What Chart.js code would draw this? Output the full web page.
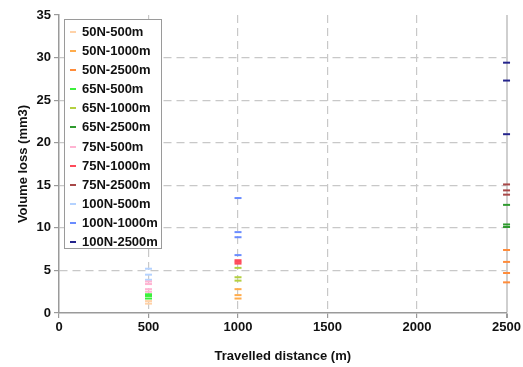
<!DOCTYPE html>
<html>
<head>
<meta charset="utf-8">
<script src="https://cdn.jsdelivr.net/npm/chart.js@4"></script>
<style>
  body { margin: 0; background: #fff; }
  #wrap { position: relative; width: 523px; height: 367px; }
  #legend {
    position: absolute; left: 64px; top: 19px; width: 98px; height: 230px;
    background: #fff; border: 1px solid #9a9a9a;
    font: bold 13px "Liberation Sans", Arial, sans-serif; color: #111;
    padding-top: 2px; box-sizing: border-box;
  }
  #legend div { height: 19.1px; line-height: 19.1px; position: relative; padding-left: 17px; white-space: nowrap; }
  #legend span { position: absolute; left: 5px; top: 9px; width: 6px; height: 2px; }
</style>
</head>
<body>
<div id="wrap">
  <canvas id="wearChart" width="523" height="367"></canvas>
  <div id="legend"></div>
</div>
<script>
// load (N) and distance (m) for each test series
const seriesNames = ['50N-500m', '50N-1000m', '50N-2500m', '65N-500m', '65N-1000m', '65N-2500m',
  '75N-500m', '75N-1000m', '75N-2500m', '100N-500m', '100N-1000m', '100N-2500m'];
const distances = [500, 1000, 2500, 500, 1000, 2500, 500, 1000, 2500, 500, 1000, 2500];
const seriesColors = ['#ffd2a8', '#ffac4c', '#ff8c3a', '#3cf03c', '#b4d040', '#2e9a2e',
  '#ffb4d2', '#ff4a5a', '#a84848', '#b4d2ff', '#6a8cff', '#24248c'];

// volume loss (mm3), repeated runs
const loss50N500 = [1.4, 1.1];
const loss50N1000 = [2.8, 2.1, 1.7];
const loss50N2500 = [7.4, 6.0, 4.7, 3.6];
const loss65N500 = [2.2, 2.0, 1.7];
const loss65N1000 = [5.3, 4.2, 3.8];
const loss65N2500 = [12.7, 10.4, 10.1];
const loss75N500 = [3.7, 3.4, 2.8, 2.5];
const loss75N1000 = [6.2, 6.0, 5.8];
const loss75N2500 = [15.1, 14.4, 13.9];
const loss100N500 = [5.2, 4.5, 3.9];
const loss100N1000 = [13.5, 9.5, 8.9, 6.8];
const loss100N2500 = [29.4, 27.3, 21.0];

const allLosses = [loss50N500, loss50N1000, loss50N2500, loss65N500, loss65N1000, loss65N2500,
  loss75N500, loss75N1000, loss75N2500, loss100N500, loss100N1000, loss100N2500];

const yTicks = [0, 5, 10, 15, 20, 25, 30, 35];
const xTicks = [0, 500, 1000, 1500, 2000, 2500];

const datasets = seriesNames.map((name, i) => ({
  label: name,
  data: allLosses[i].map(v => ({ x: distances[i], y: v })),
  showLine: false,
  clip: false,
  pointStyle: 'line',
  pointRadius: 3.5,
  pointBorderWidth: 2,
  borderColor: seriesColors[i],
  backgroundColor: seriesColors[i]
}));

// legend box inside the plot
const legendEl = document.getElementById('legend');
seriesNames.forEach((name, i) => {
  const row = document.createElement('div');
  const mark = document.createElement('span');
  mark.style.background = seriesColors[i];
  row.appendChild(mark);
  row.appendChild(document.createTextNode(name));
  legendEl.appendChild(row);
});

const tickFont = { family: '"Liberation Sans", Arial, sans-serif', size: 13, weight: 'bold' };

new Chart(document.getElementById('wearChart'), {
  type: 'scatter',
  data: { datasets },
  options: {
    responsive: false,
    animation: false,
    devicePixelRatio: 1,
    layout: { padding: { top: 15, right: 14, left: 0, bottom: 0 } },
    plugins: { legend: { display: false }, tooltip: { enabled: false } },
    scales: {
      x: {
        type: 'linear', min: 0, max: 2500,
        afterBuildTicks: s => { s.ticks = xTicks.map(v => ({ value: v })); },
        afterFit: s => { s.height = 54; },
        ticks: { color: '#111', font: tickFont, padding: 2, maxRotation: 0, callback: v => String(v) },
        grid: {
          color: c => c.tick.value === 0 ? 'rgba(0,0,0,0)' : (c.tick.value === 2500 ? '#cfcfcf' : '#c8c8c8'),
          lineWidth: c => c.tick.value === 2500 ? 2 : 1.2,
          tickLength: 5, tickColor: '#9a9a9a'
        },
        border: {
          color: '#9a9a9a', width: 1.5,
          dash: c => (c.tick && c.tick.value === 2500) ? [] : [8, 5]
        },
        title: { display: true, text: 'Travelled distance (m)', color: '#111', font: tickFont, padding: { top: 4, bottom: 3 } }
      },
      y: {
        type: 'linear', min: 0, max: 35,
        afterBuildTicks: s => { s.ticks = yTicks.map(v => ({ value: v })); },
        afterFit: s => { s.width = 59; },
        ticks: { color: '#111', font: tickFont, padding: 3, callback: v => String(v) },
        grid: {
          color: c => (c.tick.value === 0 || c.tick.value === 35) ? 'rgba(0,0,0,0)' : '#c8c8c8',
          lineWidth: 1.2,
          tickLength: 5, tickColor: '#9a9a9a'
        },
        border: { color: '#9a9a9a', width: 1.5, dash: [8, 5] },
        title: { display: true, text: 'Volume loss (mm3)', color: '#111', font: tickFont, padding: { top: 16, bottom: 0 } }
      }
    }
  }
});
</script>
</body>
</html>
